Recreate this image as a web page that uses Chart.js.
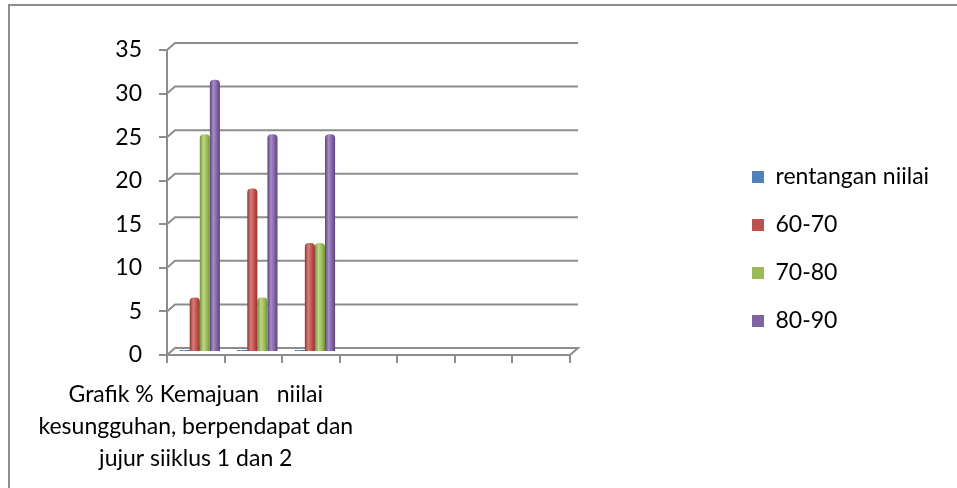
<!DOCTYPE html>
<html>
<head>
<meta charset="utf-8">
<script src="https://cdn.jsdelivr.net/npm/chart.js@4/dist/chart.umd.min.js"></script>
<style>
  html, body { margin: 0; padding: 0; background: #fff; overflow: hidden; }
  #wrap { position: relative; width: 957px; height: 488px; }
  #frame { position: absolute; left: 8px; top: 4px; width: 980px; height: 520px;
           border-top: 2px solid #8d8d8d; border-left: 2px solid #8d8d8d; }
  canvas { position: absolute; left: 0; top: 0; }
</style>
</head>
<body>
<div id="wrap">
  <div id="frame"></div>
  <canvas id="chart" width="957" height="488"></canvas>
</div>
<script>
// data
const categories = [
  ['Grafik % Kemajuan   niilai', 'kesungguhan, berpendapat dan', 'jujur siiklus 1 dan 2'],
  '', '', '', '', '', ''
];
const seriesNames = ['rentangan niilai', '60-70', '70-80', '80-90'];
const rentanganNilai = [0, 0, 0];
const nilai6070 = [6.25, 18.75, 12.5];
const nilai7080 = [25, 6.25, 12.5];
const nilai8090 = [31.25, 25, 25];
const yTickValues = [0, 5, 10, 15, 20, 25, 30, 35];

const baseColors = ['#4F81BD', '#C0504D', '#9BBB59', '#8064A2'];
const darkColors = ['#34608f', '#933533', '#739038', '#5b4580'];
const lightColors = ['#7fa5d6', '#d97c79', '#bcd886', '#a58dc4'];

const FONT = 'Lato';
const FS = 23;
const GRID = '#8d8d8d';
const DX = 8, DY = -7;
const LEG_PAD = 25;

// width of the widest legend label, so the legend boxes land at x=752
const mctx = document.createElement('canvas').getContext('2d');
mctx.font = FS + 'px ' + FONT;
const widest = Math.max(...seriesNames.map(s => mctx.measureText(s).width));
const legendItemW = 12 + FS / 2 + widest;
const padRight = Math.max(0, 957 - 762 - legendItemW);

// back wall + floor drawn like the 3D excel grid, bars shaded as cylinders
const depthGrid = {
  id: 'depthGrid',
  beforeDatasetsDraw(chart) {
    const { ctx, chartArea: a, scales: { y } } = chart;
    ctx.save();
    ctx.strokeStyle = GRID;
    ctx.lineWidth = 2;
    y.ticks.forEach((t) => {
      const py = y.getPixelForValue(t.value);
      ctx.beginPath();
      ctx.moveTo(a.left, py);
      ctx.lineTo(a.left + DX, py + DY);
      ctx.lineTo(a.right + DX, py + DY);
      if (t.value === 0) ctx.lineTo(a.right, py);
      ctx.stroke();
    });
    ctx.restore();

    chart.data.datasets.forEach((ds, i) => {
      const meta = chart.getDatasetMeta(i);
      meta.data.forEach((el) => {
        const h = el.width / 2;
        const g = ctx.createLinearGradient(el.x - h, 0, el.x + h, 0);
        g.addColorStop(0, darkColors[i]);
        g.addColorStop(0.35, lightColors[i]);
        g.addColorStop(0.7, baseColors[i]);
        g.addColorStop(1, darkColors[i]);
        const o = Object.create(el.options);
        o.backgroundColor = g;
        el.options = o;
      });
    });
    ctx.save();
    ctx.translate(4, -3);
  },
  afterDatasetsDraw(chart) {
    chart.ctx.restore();
  }
};

const series = [rentanganNilai, nilai6070, nilai7080, nilai8090];

new Chart(document.getElementById('chart'), {
  type: 'bar',
  data: {
    labels: categories,
    datasets: series.map((d, i) => ({
      label: seriesNames[i],
      data: d,
      backgroundColor: baseColors[i],
      borderWidth: 0,
      borderRadius: { topLeft: 4, topRight: 4 },
      borderSkipped: 'start',
      minBarLength: i === 0 ? 2 : 0,
      categoryPercentage: 0.7,
      barPercentage: 1,
    })),
  },
  options: {
    responsive: false,
    animation: false,
    layout: { padding: { left: 0, top: 0, bottom: 0, right: padRight } },
    plugins: {
      tooltip: { enabled: false },
      legend: {
        position: 'right',
        maxWidth: 400,
        // empty title only nudges the legend column down a few pixels
        title: { display: true, text: ' ', font: { size: 8, lineHeight: 1 }, padding: 1 },
        labels: {
          boxWidth: 12, boxHeight: 12, padding: LEG_PAD, color: '#000',
          font: { family: FONT, size: FS },
        },
      },
    },
    scales: {
      x: {
        grid: { offset: true, drawOnChartArea: false, tickLength: 8, color: GRID, lineWidth: 2 },
        border: { color: GRID, width: 2 },
        ticks: {
          autoSkip: false, maxRotation: 0, minRotation: 0, padding: 15, color: '#000',
          font: { family: FONT, size: FS, lineHeight: 1.4 },
        },
        afterFit(s) { s.height = 133; },
      },
      xTop: {
        type: 'category', position: 'top',
        grid: { display: false }, border: { display: false }, ticks: { display: false },
        afterFit(s) { s.height = 50; },
      },
      y: {
        min: 0, max: 35,
        afterBuildTicks(s) { s.ticks = yTickValues.map((v) => ({ value: v })); },
        grid: { drawOnChartArea: false, tickLength: 8, color: GRID, lineWidth: 2 },
        border: { color: GRID, width: 2 },
        ticks: { padding: 17, color: '#000', font: { family: FONT, size: FS } },
        afterFit(s) { s.width = 167; },
      },
      yRight: {
        // spacer between plot and legend so the plot ends at x=570
        type: 'linear', position: 'right',
        grid: { display: false }, border: { display: false }, ticks: { display: false },
        afterFit(s) { s.width = 752 - LEG_PAD - 570; },
      },
    },
  },
  plugins: [depthGrid],
});
</script>
</body>
</html>
